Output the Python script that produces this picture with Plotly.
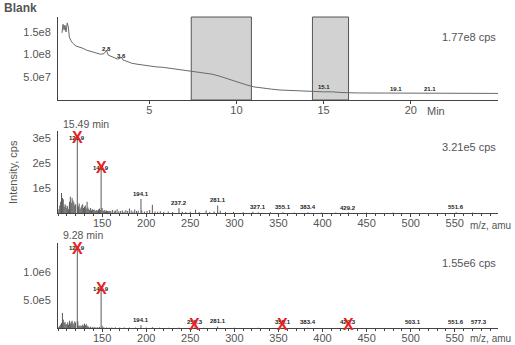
import plotly.graph_objects as go

# ---------------- data ----------------
tic_time = [0.0, 0.06, 0.12, 0.17, 0.23, 0.3, 0.36, 0.42, 0.5, 0.6, 0.8, 1.0, 1.2, 1.4,
            1.6, 1.8, 2.0, 2.2, 2.4, 2.55, 2.65, 2.8, 3.0, 3.2, 3.42, 3.5, 3.6, 3.8, 4.0,
            4.3, 4.6, 5.0, 5.4, 5.8, 6.2, 6.6, 7.0, 7.4, 7.8, 8.2, 8.6, 9.0, 9.4, 9.8,
            10.2, 10.6, 11.0, 11.5, 12.0, 12.5, 13.0, 13.5, 14.0, 14.5, 15.0, 15.5, 16.0,
            17.0, 18.0, 19.0, 20.0, 21.0, 22.0, 23.0, 24.0, 25.0]
tic_int_e7 = [14.8, 16.7, 15.4, 16.5, 15.0, 17.0, 16.1, 13.9, 13.2, 12.6, 11.9, 11.7, 11.4, 11.0,
              10.8, 10.5, 10.4, 10.1, 10.2, 10.9, 9.9, 9.7, 9.3, 9.0, 9.4, 8.8, 8.7, 8.4, 8.1,
              7.9, 7.7, 7.5, 7.3, 7.2, 7.0, 6.8, 6.6, 6.4, 6.2, 5.9, 5.7, 5.3, 4.8, 4.3,
              3.7, 3.3, 2.9, 2.6, 2.4, 2.2, 2.1, 2.0, 1.9, 1.9, 1.8, 1.8, 1.65,
              1.55, 1.55, 1.5, 1.5, 1.5, 1.45, 1.45, 1.45, 1.45]
tic_labels = ["2.8", "3.6", "15.1", "19.1", "21.1"]
tic_label_t = [2.53, 3.42, 15.0, 19.13, 21.08]
tic_label_y = [1.12e8, 0.97e8, 2.8e7, 2.35e7, 2.35e7]
box_start = [7.41, 14.36]
box_end = [10.86, 16.43]

ms1_mz = [101, 102, 103, 104, 105, 106, 107, 108, 109, 110, 111, 112, 113, 114, 115, 116, 117,
          118, 119, 120, 121.9, 122.5, 123, 124, 125, 126, 127, 128, 129, 130, 131, 132, 133,
          134, 135, 136, 137, 138, 139, 140, 141, 142, 143, 144, 145, 146, 147, 148, 148.9,
          150, 151, 152, 153, 154, 155, 156, 157, 158, 159, 160, 162, 164, 165, 167, 169, 171,
          173, 175, 177, 179, 181, 183, 185, 187, 189, 191, 194.1, 195, 198, 201, 204, 207,
          210, 213, 216, 220, 225, 230, 237.2, 241, 245, 250, 256, 260, 268, 272, 277, 281.1,
          284, 290, 299, 310, 321, 327.1, 341, 355.1, 368, 383.4, 399, 415, 429.2, 450, 480,
          551.6, 570]
ms1_int_e3 = [15, 30, 45, 80, 60, 55, 25, 35, 30, 20, 28, 15, 45, 65, 40, 60, 50,
              42, 30, 35, 300, 30, 25, 38, 15, 22, 30, 35, 20, 25, 30, 18, 45,
              22, 15, 12, 20, 10, 15, 12, 14, 8, 10, 12, 9, 14, 18, 12, 180,
              20, 10, 8, 12, 6, 10, 8, 7, 9, 6, 8, 12, 6, 10, 15, 7, 8,
              10, 6, 12, 8, 18, 10, 6, 14, 8, 9, 56, 10, 6, 8, 12, 33,
              6, 5, 7, 5, 6, 4, 20, 5, 4, 5, 13, 4, 10, 4, 6, 30,
              9, 4, 4, 3, 5, 3, 3, 3, 2, 3, 2, 2, 2.5, 2, 2,
              3, 2]
ms1_labels = ["121.9", "148.9", "194.1", "237.2", "281.1", "327.1", "355.1", "383.4", "429.2", "551.6"]
ms1_label_mz = [121.9, 148.9, 194.1, 237.2, 281.1, 327.1, 355.1, 383.4, 429.2, 551.6]
ms1_label_y = [3.0e5, 1.8e5, 5.6e4, 2.0e4, 3.0e4, 2.0e3, 2.5e3, 2.5e3, 1.0e3, 2.5e3]
ms1_x_mz = [121.9, 148.9]
ms1_x_y = [3.0e5, 1.8e5]

ms2_mz = [101, 102, 103, 104, 105, 106, 107, 108, 109, 110, 111, 112, 113, 114, 115, 116, 117,
          118, 119, 120, 121.9, 122.5, 123, 124, 125, 126, 127, 128, 129, 130, 131, 132, 133,
          134, 135, 137, 139, 141, 143, 145, 147, 148.9, 150, 152, 155, 158, 161, 165, 170,
          175, 181, 188, 194.1, 200, 207, 215, 225, 237, 255.3, 265, 281.1, 300, 327, 355.1,
          383.4, 429.3, 503.1, 551.6, 577.3]
ms2_int_e3 = [20, 40, 60, 90, 270, 150, 90, 110, 60, 70, 100, 60, 130, 80, 110, 130, 90,
              60, 120, 100, 1430, 120, 40, 30, 50, 30, 40, 60, 40, 80, 50, 70, 40,
              30, 20, 25, 15, 20, 12, 15, 20, 700, 40, 15, 10, 8, 10, 12, 8,
              10, 9, 8, 50, 8, 15, 6, 5, 8, 30, 5, 25, 4, 4, 8,
              5, 6, 3, 3, 3]
ms2_labels = ["121.9", "148.9", "194.1", "255.3", "281.1", "355.1", "383.4", "429.3",
              "503.1", "551.6", "577.3"]
ms2_label_mz = [121.9, 148.9, 194.1, 255.3, 281.1, 355.1, 383.4, 429.3, 503.1, 551.6, 577.3]
ms2_label_y = [1.43e6, 7.0e5, 5.0e4, 1.5e4, 3.0e4, 1.0e4, 1.0e4, 1.0e4, 1.0e4, 1.0e4, 1.0e4]
ms2_x_mz = [121.9, 148.9, 255.3, 355.1, 429.3]
ms2_x_y = [1.43e6, 7.0e5, 6.0e4, 6.0e4, 6.0e4]

time_ticks = [5, 10, 15, 20]
mz_ticks = [150, 200, 250, 300, 350, 400, 450, 500, 550]
y1_ticks = [5e7, 1e8, 1.5e8]
y1_text = ["5.0e7", "1.0e8", "1.5e8"]
y2_ticks = [1e5, 2e5, 3e5]
y2_text = ["1e5", "2e5", "3e5"]
y3_ticks = [5e5, 1e6]
y3_text = ["5.0e5", "1.0e6"]

# ---------------- figure ----------------
W, H = 515, 345
FONT = "Liberation Sans, Arial, sans-serif"
GREY = "#555555"
LINE = "#5a5a5a"
RED = "#e8231f"


def pxx(x):
    return x / W


def pyy(y):
    return 1 - y / H


def sticks(mz, vals, scale):
    xs, ys = [], []
    for m, v in zip(mz, vals):
        xs += [m, m, None]
        ys += [0, v * scale, None]
    return xs, ys


fig = go.Figure()

fig.add_trace(go.Scatter(x=tic_time, y=[v * 1e7 for v in tic_int_e7], mode="lines",
                         line=dict(color="#6a6a6a", width=1), xaxis="x", yaxis="y",
                         hoverinfo="skip"))

sx, sy = sticks(ms1_mz, ms1_int_e3, 1e3)
fig.add_trace(go.Scatter(x=sx, y=sy, mode="lines", line=dict(color=LINE, width=1),
                         xaxis="x2", yaxis="y2", hoverinfo="skip"))
sx, sy = sticks(ms2_mz, ms2_int_e3, 1e3)
fig.add_trace(go.Scatter(x=sx, y=sy, mode="lines", line=dict(color=LINE, width=1),
                         xaxis="x3", yaxis="y3", hoverinfo="skip"))

xdom = [pxx(58), pxx(498)]
common_x = dict(domain=xdom, showline=True, linecolor="#444", linewidth=1, ticks="outside",
                ticklen=3, tickcolor="#444", tickfont=dict(size=11, color=GREY, family=FONT),
                showgrid=False, zeroline=False, automargin=False, ticklabelstandoff=-3)
common_y = dict(showline=True, linecolor="#444", linewidth=1, ticks="",
                tickfont=dict(size=11, color=GREY, family=FONT), showgrid=False,
                zeroline=False, automargin=False, ticklabelstandoff=4)

annotations = []
shapes = []

for a, b in zip(box_start, box_end):
    shapes.append(dict(type="rect", xref="x", yref="y domain", x0=a, x1=b, y0=0, y1=1,
                       fillcolor="#d2d2d2", line=dict(color="#555", width=1), layer="below"))

small = dict(size=6, color="#222", family=FONT)
for txt_, t, y in zip(tic_labels, tic_label_t, tic_label_y):
    annotations.append(dict(x=t, y=y, xref="x", yref="y", text="<b>%s</b>" % txt_,
                            showarrow=False, font=small, xanchor="center", yanchor="middle"))
for txt_, m, y in zip(ms1_labels, ms1_label_mz, ms1_label_y):
    annotations.append(dict(x=m, y=y, xref="x2", yref="y2", text="<b>%s</b>" % txt_,
                            showarrow=False, font=small, xanchor="center",
                            yanchor="middle" if y > 1e5 else "bottom"))
for txt_, m, y in zip(ms2_labels, ms2_label_mz, ms2_label_y):
    annotations.append(dict(x=m, y=y, xref="x3", yref="y3", text="<b>%s</b>" % txt_,
                            showarrow=False, font=small, xanchor="center",
                            yanchor="middle" if y > 5e5 else "bottom"))

# red crosses drawn last so they sit over the peak labels
for m, y in zip(ms1_x_mz, ms1_x_y):
    annotations.append(dict(x=m, y=y, xref="x2", yref="y2", text="<b>X</b>", showarrow=False,
                            font=dict(size=16, color=RED, family=FONT),
                            xanchor="center", yanchor="middle"))
for m, y in zip(ms2_x_mz, ms2_x_y):
    annotations.append(dict(x=m, y=y, xref="x3", yref="y3", text="<b>X</b>", showarrow=False,
                            font=dict(size=16, color=RED, family=FONT),
                            xanchor="center", yanchor="middle"))


def txt(x, y, s, size=11, anchor="center", bold=False, angle=0):
    annotations.append(dict(x=pxx(x), y=pyy(y), xref="paper", yref="paper",
                            text=("<b>%s</b>" % s) if bold else s, showarrow=False,
                            font=dict(size=size, color=GREY, family=FONT),
                            xanchor=anchor, yanchor="middle", textangle=angle))


txt(2, 8, "Blank", size=12, anchor="left", bold=True)
txt(425, 111, "Min", anchor="left")
txt(513, 225, "m/z, amu", size=10, anchor="right")
txt(513, 338, "m/z, amu", size=10, anchor="right")
txt(498, 37, "1.77e8 cps", anchor="right")
txt(498, 147, "3.21e5 cps", anchor="right")
txt(498, 263, "1.55e6 cps", anchor="right")
txt(61, 124, "15.49 min", size=10.5, anchor="left")
txt(61, 235, "9.28 min", size=10.5, anchor="left")
txt(13, 172, "Intensity, cps", angle=-90)

mz_minor = dict(ticks="outside", ticklen=2, dtick=10, tickcolor="#444", tick0=100)

fig.update_layout(
    width=W, height=H, margin=dict(l=0, r=0, t=0, b=0),
    paper_bgcolor="white", plot_bgcolor="white", showlegend=False,
    font=dict(family=FONT, color=GREY),
    xaxis=dict(common_x, range=[-0.23, 25], tickvals=time_ticks, anchor="y"),
    yaxis=dict(common_y, domain=[pyy(100), pyy(17)], range=[0, 1.83e8], anchor="x",
               tickvals=y1_ticks, ticktext=y1_text),
    xaxis2=dict(common_x, range=[100, 599], tickvals=mz_ticks, anchor="y2", minor=mz_minor),
    yaxis2=dict(common_y, domain=[pyy(213), pyy(131)], range=[0, 3.28e5], anchor="x2",
                tickvals=y2_ticks, ticktext=y2_text),
    xaxis3=dict(common_x, range=[100, 599], tickvals=mz_ticks, anchor="y3", minor=mz_minor),
    yaxis3=dict(common_y, domain=[pyy(328), pyy(243)], range=[0, 1.52e6], anchor="x3",
                tickvals=y3_ticks, ticktext=y3_text),
    annotations=annotations, shapes=shapes,
)

fig.write_html("out.html")
